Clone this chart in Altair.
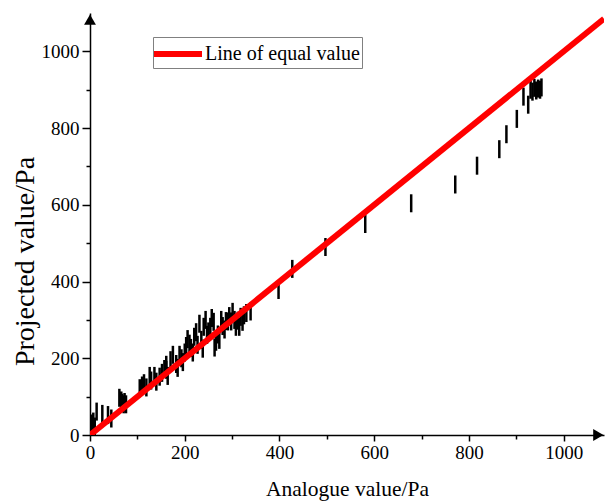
import altair as alt
import pandas as pd

# Measured points (analogue value, projected value)
analogue = [4, 7, 10, 14, 26, 38, 45, 62, 66, 68, 71, 73, 76,
            105, 110, 114, 119, 126, 129, 136, 140, 147, 152, 157, 161, 164,
            161, 170, 175, 182, 185, 189, 193, 196, 200, 203, 206, 210, 213, 217,
            220, 224, 227, 231, 235, 238, 240, 244, 247, 250, 254, 257, 261, 263,
            266, 270, 273, 277, 280, 284, 287, 291, 294, 298, 301, 305, 308, 312,
            315, 318, 322, 325, 330,
            339, 398, 427, 497, 581, 678, 771, 817, 864, 879, 901, 915, 925,
            930, 934, 938, 942, 946, 950, 953]
projected = [30, 35, 22, 61, 55, 52, 43, 97, 90, 84, 80, 86, 80,
             122, 129, 135, 124, 154, 142, 154, 139, 152, 162, 172, 170, 154,
             183, 195, 209, 185, 175, 209, 200, 190, 215, 232, 250, 238, 227, 215,
             256, 268, 235, 290, 248, 225, 282, 300, 261, 270, 282, 305, 295, 228,
             243, 262, 248, 300, 284, 275, 297, 296, 310, 296, 321, 300, 282, 298,
             282, 308, 295, 312, 318,
             322, 378, 433, 490, 550, 604, 653, 702, 745, 784, 824, 882, 861,
             900, 895, 905, 898, 903, 900, 906]

equal_line = [0, 1085]
series_name = ["Line of equal value", "Line of equal value"]

arrow_x = [0, 1073]
arrow_y = [1083, 0]
arrow_shape = ["triangle-up", "triangle-right"]

x_max = 1085
y_max = 1100
tick_values = list(range(0, 1001, 100))

FONT = "Liberation Serif, Times New Roman, serif"

points_df = pd.DataFrame({"analogue": analogue, "projected": projected})
line_df = pd.DataFrame({"analogue": equal_line, "projected": equal_line, "series": series_name})
arrow_df = pd.DataFrame({"analogue": arrow_x, "projected": arrow_y, "shape": arrow_shape})

xscale = alt.Scale(domain=[0, x_max], nice=False, zero=False)
yscale = alt.Scale(domain=[0, y_max], nice=False, zero=False)

major = "datum.value % 200 === 0"

x_axis = alt.Axis(
    values=tick_values, format="d",
    labelExpr=f"{major} ? datum.label : ''",
    tickSize={"condition": {"test": major, "value": 6}, "value": 4},
    grid=False, domainColor="black", domainWidth=1.5,
    tickColor="black", tickWidth=1.5,
    labelFont=FONT, labelFontSize=19, labelColor="black", labelPadding=2,
    labelOverlap=False, labelFlush=False,
    title="Analogue value/Pa", titleFont=FONT, titleFontSize=21.5,
    titleFontWeight="normal", titleColor="black",
    titleY=54, titleBaseline="middle",
)

y_axis = alt.Axis(
    values=tick_values, format="d",
    labelExpr=f"{major} ? datum.label : ''",
    tickSize={"condition": {"test": major, "value": 8}, "value": 4},
    grid=False, domainColor="black", domainWidth=1.5,
    tickColor="black", tickWidth=1.5,
    labelFont=FONT, labelFontSize=19, labelColor="black", labelPadding=3,
    labelOverlap=False, labelFlush=False,
    title="Projected value/Pa", titleFont=FONT, titleFontSize=28,
    titleFontWeight="normal", titleColor="black",
    titleX=-65, titleY=248, titleAngle=270, titleBaseline="middle", titleAlign="center",
)

ticks = alt.Chart(points_df).mark_tick(
    orient="vertical", color="black", thickness=2.5, size=18, opacity=1
).encode(
    x=alt.X("analogue:Q", scale=xscale, axis=x_axis),
    y=alt.Y("projected:Q", scale=yscale, axis=y_axis),
)

line = alt.Chart(line_df).mark_line(strokeWidth=6, clip=True).encode(
    x=alt.X("analogue:Q", scale=xscale),
    y=alt.Y("projected:Q", scale=yscale),
    color=alt.Color(
        "series:N",
        scale=alt.Scale(domain=["Line of equal value"], range=["#ff0000"]),
        legend=alt.Legend(
            title=None, orient="none", legendX=63, legendY=24,
            symbolType="M-2,0H2", symbolStrokeWidth=6, symbolSize=576,
            symbolOffset=8,
            labelFont=FONT, labelFontSize=20, labelColor="black",
            strokeColor="#808080", padding=2, labelOffset=12,
        ),
    ),
)

arrows = alt.Chart(arrow_df).mark_point(
    filled=True, color="black", size=140, opacity=1, clip=False
).encode(
    x=alt.X("analogue:Q", scale=xscale),
    y=alt.Y("projected:Q", scale=yscale),
    shape=alt.Shape("shape:N", scale=None, legend=None),
)

chart = alt.layer(ticks, line, arrows).properties(
    width=514, height=422,
    autosize=alt.AutoSizeParams(type="none"),
    padding={"left": 90, "top": 13, "right": 1, "bottom": 67},
    background="white",
).configure(font=FONT).configure_axis(labelFont=FONT, titleFont=FONT).configure_legend(
    labelFont=FONT
).configure_view(strokeWidth=0)

chart.save("out.html", embed_options={"renderer": "svg", "actions": False})
